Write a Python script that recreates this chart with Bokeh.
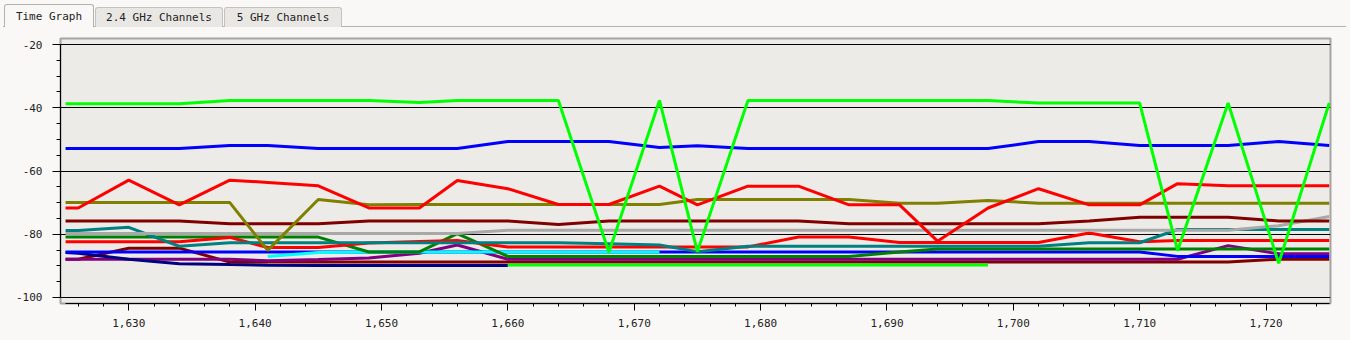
import numpy as np
from bokeh.plotting import figure
from bokeh.models import Range1d, FixedTicker, Div
from bokeh.layouts import column
from bokeh.embed import file_html
from bokeh.resources import INLINE

nan = float("nan")

# sample times (x)
T = [1625, 1626, 1630, 1634, 1638, 1641, 1645, 1649, 1653, 1656, 1660, 1664, 1668, 1672,
     1675, 1679, 1683, 1687, 1691, 1694, 1698, 1702, 1706, 1710, 1713, 1717, 1721, 1725]

lime = [-38.7, -38.7, -38.7, -38.7, -37.7, -37.7, -37.7, -37.7, -38.3, -37.7, -37.7, -37.7, -85.7, -37.7,
        -85.5, -37.7, -37.7, -37.7, -37.7, -37.7, -37.7, -38.5, -38.5, -38.5, -85.2, -38.5, -89.2, -38.5]
blue = [-52.9, -52.9, -52.9, -52.9, -51.9, -51.9, -52.9, -52.9, -52.9, -52.9, -50.7, -50.7, -50.7, -52.6,
        -52.0, -52.9, -52.9, -52.9, -52.9, -52.9, -52.9, -50.7, -50.7, -51.9, -51.9, -51.9, -50.7, -51.9]
red_hi = [-71.7, -71.7, -62.9, -70.7, -62.9, -63.6, -64.7, -71.7, -71.7, -63.0, -65.6, -70.6, -70.6, -64.8,
          -70.7, -64.8, -64.8, -70.7, -70.7, -82.2, -71.7, -65.6, -70.7, -70.7, -64.0, -64.7, -64.7, -64.7]
olive = [-70.0, -70.0, -70.0, -70.0, -70.0, -85.1, -69.0, -70.7, -70.6, -70.6, -70.6, -70.6, -70.6, -70.6,
         -69.0, -69.0, -69.0, -69.0, -70.2, -70.2, -69.3, -70.2, -70.2, -70.2, -70.2, -70.2, -70.2, -70.2]
maroon = [-75.8, -75.8, -75.8, -75.8, -76.7, -76.7, -76.7, -75.8, -75.8, -75.8, -75.8, -76.9, -75.8, -75.8,
          -75.8, -75.8, -75.8, -76.7, -76.7, -76.7, -76.7, -76.7, -75.8, -74.6, -74.6, -74.6, -75.8, -75.8]
gray = [-79.8, -79.8, -79.8, -79.8, -79.8, -79.8, -79.8, -79.8, -79.8, -79.8, -78.7, -78.7, -78.7, -78.7,
        -78.7, -78.7, -78.7, -78.7, -78.7, -78.7, -78.7, -78.7, -78.7, -78.7, -78.7, -78.7, -77.3, -74.4]
teal = [-78.8, -78.8, -77.8, -83.8, -82.7, -82.7, -82.7, -82.7, -82.7, -82.7, -82.7, -82.7, -83.0, -83.4,
        -85.5, -83.8, -83.8, -83.8, -83.8, -83.8, -83.8, -83.8, -82.7, -82.7, -78.5, -78.5, -78.5, -78.5]
red_lo = [-82.4, -82.4, -82.4, -82.4, -81.0, -84.2, -84.2, -82.8, -82.3, -82.0, -84.0, -84.0, -84.0, -84.0,
          -84.0, -84.0, -80.9, -80.9, -82.6, -82.6, -82.6, -82.6, -79.6, -82.4, -82.0, -82.0, -82.0, -82.0]
dkgreen = [-80.9, -80.9, -80.9, -80.9, -80.9, -80.9, -80.9, -85.6, -85.6, -79.8, -87.0, -87.0, -87.0, -87.0,
           -87.0, -87.0, -87.0, -87.0, -85.6, -84.7, -84.7, -84.7, -84.7, -84.7, -84.7, -84.7, -84.7, -84.7]
blue_lo = [-85.6, -85.6, -85.6, -85.6, -85.6, -85.6, -85.6, -85.6, -85.6, -85.6, -85.6, -85.6, -85.6, -85.6,
           -85.6, -85.6, -85.6, -85.6, -85.6, -85.6, -85.6, -85.6, -85.6, -85.6, -87.0, -87.0, -87.0, -87.0]
cyan = [nan, nan, nan, nan, nan, -87.0, -85.8, -85.6, -85.6, -85.6, -85.6, -85.6, -85.6, -85.6,
        nan, nan, nan, nan, nan, nan, nan, nan, nan, nan, nan, nan, nan, nan]
navy = [-85.8, -86.0, -87.9, -89.3, -89.6, -89.8, -89.9, -89.9, -89.9, -89.9, -89.9, nan, nan, nan,
        nan, nan, nan, nan, nan, nan, nan, nan, nan, nan, nan, nan, nan, nan]
lime_lo = [nan, nan, nan, nan, nan, nan, nan, nan, nan, nan, -89.7, -89.7, -89.7, -89.7,
           -89.7, -89.7, -89.7, -89.7, -89.7, -89.7, -89.7, nan, nan, nan, nan, nan, nan, nan]
purple = [-87.9, -87.9, -87.9, -87.9, -87.9, -88.4, -88.0, -87.5, -86.0, -83.4, -87.9, -87.9, -87.9, -87.9,
          -87.9, -87.9, -87.9, -87.9, -87.9, -87.9, -87.9, -87.9, -87.9, -87.9, -87.9, -83.6, -86.2, -86.2]
maroon_lo = [-87.9, -87.9, -84.4, -84.4, -88.8, -88.8, -88.8, -88.8, -88.8, -88.8, -88.8, -88.8, -88.8, -88.8,
             -88.8, -88.8, -88.8, -88.8, -88.8, -88.8, -88.8, -88.8, -88.8, -88.8, -88.8, -88.8, -87.9, -87.9]

x_ticks = [1630, 1640, 1650, 1660, 1670, 1680, 1690, 1700, 1710, 1720]
x_tick_labels = ["1,630", "1,640", "1,650", "1,660", "1,670", "1,680", "1,690", "1,700", "1,710", "1,720"]
x_minor = list(range(1626, 1725, 2))
y_ticks = [-100, -80, -60, -40, -20]
y_tick_labels = ["-100", "-80", "-60", "-40", "-20"]
y_minor = list(range(-100, -19, 5))

series = [
    (maroon_lo, "#800000"),
    (purple, "#800080"),
    (navy, "#000080"),
    (blue_lo, "#0000ff"),
    (cyan, "#00ffff"),
    (lime_lo, "#00ff00"),
    (dkgreen, "#008000"),
    (red_lo, "#ff0000"),
    (teal, "#008080"),
    (gray, "#a8a8a8"),
    (maroon, "#800000"),
    (olive, "#808000"),
    (red_hi, "#ff0000"),
    (blue, "#0000ff"),
    (lime, "#00ff00"),
]

PAGE_BG = "#f9f8f6"
PLOT_BG = "#edebe7"
FONT = "DejaVu Sans Mono"

p = figure(width=1350, height=313, output_backend="svg", toolbar_location=None,
           x_range=Range1d(1624.6, 1725.1), y_range=Range1d(-101.9, -18.1),
           min_border_left=60, min_border_right=20, min_border_top=11, min_border_bottom=37)
p.background_fill_color = PLOT_BG
p.border_fill_color = PAGE_BG
p.outline_line_color = "#a6a4a0"
p.outline_line_width = 2

for ys, col in series:
    p.line(np.array(T, dtype=float), np.array(ys, dtype=float), line_color=col, line_width=3)

p.xgrid.visible = False
p.ygrid.ticker = FixedTicker(ticks=y_ticks)
p.ygrid.grid_line_color = "black"
p.ygrid.grid_line_alpha = 1.0
p.ygrid.grid_line_width = 1

xa = p.xaxis[0]
xa.ticker = FixedTicker(ticks=x_ticks, minor_ticks=x_minor)
xa.major_label_overrides = {t: l for t, l in zip(x_ticks, x_tick_labels)}
xa.bounds = (1625, 1725)
xa.major_tick_out = 7
xa.major_tick_in = 0
xa.minor_tick_out = 3
xa.minor_tick_in = 0
xa.major_label_standoff = 8
ya = p.yaxis[0]
ya.ticker = FixedTicker(ticks=y_ticks, minor_ticks=y_minor)
ya.major_label_overrides = {t: l for t, l in zip(y_ticks, y_tick_labels)}
ya.bounds = (-100, -20)
ya.major_tick_out = 8
ya.major_tick_in = 0
ya.minor_tick_out = 4
ya.minor_tick_in = 0
ya.major_label_standoff = 10
for ax in (xa, ya):
    ax.axis_line_color = "black"
    ax.major_tick_line_color = "black"
    ax.minor_tick_line_color = "black"
    ax.major_label_text_font = FONT
    ax.major_label_text_font_size = "11px"
    ax.major_label_text_color = "#222222"

tab_common = "position:absolute;text-align:center;border-radius:3px 3px 0 0;box-sizing:border-box;"
tabs_html = (
    f'<div style="position:relative;width:1350px;height:27px;background:{PAGE_BG};'
    f"font-family:'{FONT}',monospace;font-size:11px;color:#222;\">"
    '<div style="position:absolute;left:3px;top:26px;width:1343px;height:1px;background:#b4b2ae;"></div>'
    f'<div style="{tab_common}left:95px;top:7px;width:128px;height:20px;background:#e9e7e4;'
    'border:1px solid #c4c2be;border-bottom:none;line-height:19px;">2.4 GHz Channels</div>'
    f'<div style="{tab_common}left:224px;top:7px;width:118px;height:20px;background:#e9e7e4;'
    'border:1px solid #c4c2be;border-bottom:none;line-height:19px;">5 GHz Channels</div>'
    f'<div style="{tab_common}left:4px;top:4px;width:90px;height:23px;background:{PAGE_BG};'
    'border:1px solid #b4b2ae;border-bottom:none;line-height:24px;">Time Graph</div>'
    '</div>'
)
tabs = Div(text=tabs_html, width=1350, height=27, margin=0)
tabs.styles = {"background": PAGE_BG}

layout = column(tabs, p, spacing=0, margin=0)
layout.styles = {"background": PAGE_BG}

open("out.html", "w").write(file_html(layout, INLINE))
